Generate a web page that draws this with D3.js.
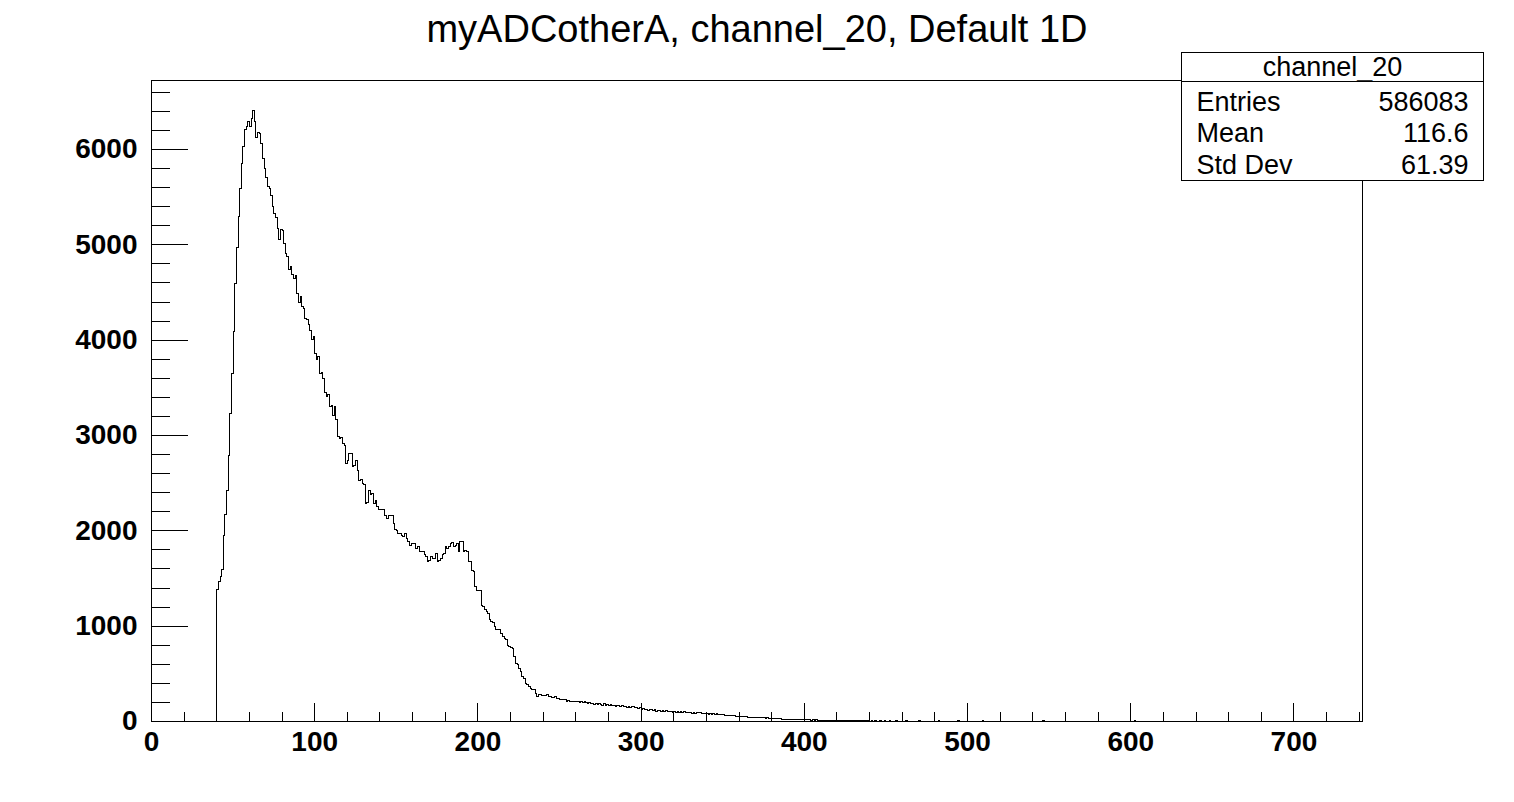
<!DOCTYPE html>
<html>
<head>
<meta charset="utf-8">
<script src="https://cdn.jsdelivr.net/npm/d3@7"></script>
<style>
  html, body { margin: 0; padding: 0; background: #ffffff; }
  svg { display: block; }
  text { font-family: "Liberation Sans", Arial, Helvetica, sans-serif; fill: #000; }
</style>
</head>
<body>
<svg id="chart" width="1514" height="802"></svg>
<script>
// ---------------- data ----------------
const chartTitle = "myADCotherA, channel_20, Default 1D";
const xRange = [0, 742];
const yMaxValue = 6724;
const binWidth = 1;
const firstBin = 40;
// counts for bins starting at x = 40, 41, 42, ...
const counts40to61 = [1385,1470,1525,1595,1950,2175,2420,2790,3230,3655,4090,4595,4975,5300,5590,5850,6030,6212,6240,6292,6239,6330];
const counts62to89 = [6410,6295,6130,6175,6170,6060,5910,5800,5710,5610,5590,5520,5400,5325,5285,5170,5060,5160,5150,5010,4910,4880,4740,4770,4690,4650,4680,4490];
const counts90to119 = [4400,4456,4350,4334,4230,4212,4165,4100,4002,4037,3862,3800,3827,3652,3660,3600,3450,3407,3425,3302,3310,3215,3302,3163,2988,2971,2980,2918,2900,2708];
const counts120to149 = [2740,2813,2810,2673,2690,2743,2638,2533,2540,2499,2490,2289,2300,2428,2376,2394,2289,2323,2253,2219,2225,2226,2219,2166,2131,2166,2166,2166,2079,2016];
const counts150to179 = [2002,1974,1974,1956,1939,1967,1921,1886,1851,1869,1869,1869,1817,1834,1781,1781,1781,1747,1729,1676,1690,1729,1712,1712,1764,1676,1694,1712,1747,1760];
const counts180to209 = [1834,1817,1834,1869,1876,1834,1851,1869,1781,1886,1886,1781,1799,1781,1676,1676,1589,1572,1414,1379,1379,1379,1222,1205,1170,1152,1135,1065,1047,1037];
const counts210to239 = [995,967,960,960,925,890,872,855,802,785,778,768,680,610,593,558,522,470,453,401,383,370,348,340,338,296,267,278,278,270];
const counts240to261 = [275,268,278,262,260,255,250,262,243,240,235,230,226,232,215,220,208,212,205,215,210,208];
const counts262to300 = [200,205,198,208,195,190,200,186,192,182,190,178,184,180,172,185,170,176,168,180,165,172,160,173,165,158,168,155,160,150,162,148,155,156,145,150,138,142,130];
const counts301to340 = [135,122,128,120,121,126,115,122,110,118,112,108,116,105,114,108,100,106,98,104,96,102,94,100,98,103,92,97,90,95,88,93,86,92,90,93,84,88,80,85];
const counts341to380 = [78,83,76,80,74,79,72,76,70,72,66,68,62,64,60,58,61,55,57,52,54,50,52,48,46,44,46,42,44,40,42,38,40,37,38,36,37,33,34,30];
const counts381to440 = [32,29,30,27,28,25,24,26,22,24,21,23,20,22,19,21,23,18,20,17,19,16,18,15,17,14,16,13,15,12,14,11,13,12,10,12,11,13,10,9,11,8,10,9,7,9,8,6,8,7,6,8,5,7,6,5,6,4,6,5];
const counts441to530 = [6,4,7,3,5,6,2,5,7,3,4,6,2,5,3,6,2,4,5,1,3,6,2,4,3,1,5,2,3,6,1,2,4,1,3,5,0,2,4,1,3,6,0,2,3,1,5,0,2,4,1,0,3,6,1,2,0,3,1,5,0,2,1,4,0,1,3,0,6,1,2,0,1,3,0,2,5,0,1,2,0,1,4,0,1,0,2,0,1,0];
const isolatedBins = [546, 602];
const isolatedCounts = [6, 7];

const xMajorTicks = [0,100,200,300,400,500,600,700];
const yMajorTicks = [0,1000,2000,3000,4000,5000,6000];
const statsTitle = "channel_20";
const statsLabels = ["Entries", "Mean", "Std Dev"];
const statsValues = ["586083", "116.6", "61.39"];

// ---------------- build bins ----------------
const allCounts = [].concat(counts40to61, counts62to89, counts90to119, counts120to149,
  counts150to179, counts180to209, counts210to239, counts240to261, counts262to300,
  counts301to340, counts341to380, counts381to440, counts441to530);
const nBins = Math.round((xRange[1] - xRange[0]) / binWidth);
const binValues = new Array(nBins).fill(0);
allCounts.forEach((c, i) => { binValues[firstBin + i] = c; });
isolatedBins.forEach((b, i) => { binValues[b] = isolatedCounts[i]; });

// ---------------- layout ----------------
const svg = d3.select("#chart");
const frame = { left: 151.5, right: 1362.5, top: 80.5, bottom: 721.5 };
const x = d3.scaleLinear().domain(xRange).range([frame.left, frame.right]);
const y = d3.scaleLinear().domain([0, yMaxValue]).range([frame.bottom, frame.top]);
const FONT = '"Liberation Sans", Arial, Helvetica, sans-serif';

svg.append("rect").attr("width", 1514).attr("height", 802).attr("fill", "#fff");

// title
svg.append("text")
  .attr("x", 757).attr("y", 42)
  .attr("text-anchor", "middle")
  .style("font-size", "38px")
  .text(chartTitle);

// histogram line
const pts = binValues.map((v, i) => [xRange[0] + i * binWidth, v]);
pts.push([xRange[1], binValues[nBins - 1]]);
pts.push([xRange[1], 0]);
const line = d3.line().x(d => x(d[0])).y(d => y(d[1])).curve(d3.curveStepAfter);
svg.append("path")
  .attr("d", line([[xRange[0], 0]].concat(pts)))
  .attr("fill", "none")
  .attr("stroke", "#000")
  .attr("stroke-width", 1)
  .attr("shape-rendering", "crispEdges");

// x axis
const xMinor = d3.range(20, 741, 20).filter(v => v % 100 !== 0);
const gx = svg.append("g").attr("transform", `translate(0,${frame.bottom})`);
gx.call(d3.axisBottom(x).offset(0).tickValues(xMajorTicks).tickSizeInner(-19).tickSizeOuter(0).tickPadding(10)
  .tickFormat(d3.format("d")));
const gxm = svg.append("g").attr("transform", `translate(0,${frame.bottom})`);
gxm.call(d3.axisBottom(x).offset(0).tickValues(xMinor).tickSizeInner(-9.5).tickSizeOuter(0).tickFormat(""));

// y axis
const yMinor = d3.range(200, 6601, 200).filter(v => v % 1000 !== 0);
const gy = svg.append("g").attr("transform", `translate(${frame.left},0)`);
gy.call(d3.axisLeft(y).offset(0).tickValues(yMajorTicks).tickSizeInner(-36).tickSizeOuter(0).tickPadding(14)
  .tickFormat(d3.format("d")));
const gym = svg.append("g").attr("transform", `translate(${frame.left},0)`);
gym.call(d3.axisLeft(y).offset(0).tickValues(yMinor).tickSizeInner(-18).tickSizeOuter(0).tickFormat(""));

[gx, gxm, gy, gym].forEach(g => {
  g.select(".domain").remove();
  g.selectAll(".tick line").attr("stroke", "#000").attr("shape-rendering", "crispEdges");
  g.selectAll("text")
    .style("font-family", FONT)
    .style("font-size", "28px")
    .style("font-weight", "bold")
    .attr("fill", "#000");
});

// frame
svg.append("rect")
  .attr("x", frame.left).attr("y", frame.top)
  .attr("width", frame.right - frame.left).attr("height", frame.bottom - frame.top)
  .attr("fill", "none").attr("stroke", "#000").attr("stroke-width", 1)
  .attr("shape-rendering", "crispEdges");

// stats box
const box = { x: 1181.5, y: 52.5, w: 302, h: 128, sep: 81.5 };
const gs = svg.append("g");
gs.append("rect").attr("x", box.x).attr("y", box.y).attr("width", box.w).attr("height", box.h)
  .attr("fill", "#fff").attr("stroke", "#000").attr("stroke-width", 1).attr("shape-rendering", "crispEdges");
gs.append("line").attr("x1", box.x).attr("x2", box.x + box.w).attr("y1", box.sep).attr("y2", box.sep)
  .attr("stroke", "#000").attr("stroke-width", 1).attr("shape-rendering", "crispEdges");
gs.append("text").attr("x", box.x + box.w / 2).attr("y", 76)
  .attr("text-anchor", "middle").style("font-size", "27px").text(statsTitle);
statsLabels.forEach((lab, i) => {
  const by = 110.5 + i * 31.5;
  gs.append("text").attr("x", box.x + 15).attr("y", by).style("font-size", "27px").text(lab);
  gs.append("text").attr("x", box.x + box.w - 15).attr("y", by).attr("text-anchor", "end")
    .style("font-size", "27px").text(statsValues[i]);
});
</script>
</body>
</html>
